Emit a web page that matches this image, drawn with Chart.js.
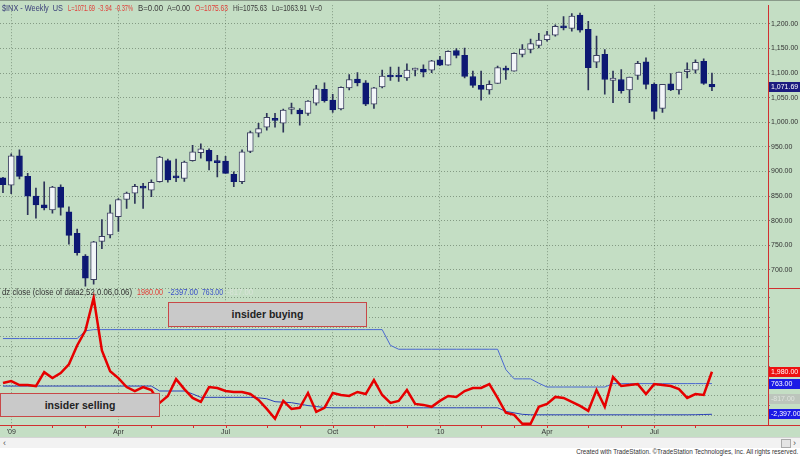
<!DOCTYPE html>
<html>
<head>
<meta charset="utf-8">
<script src="https://cdn.jsdelivr.net/npm/chart.js@4.4.0/dist/chart.umd.min.js"></script>
<style>
  body { margin: 0; width: 800px; height: 457px; overflow: hidden; background: #fff; font-family: 'Liberation Sans', Arial, sans-serif; }
  #wrap { position: absolute; left: 0; top: 0; width: 800px; height: 437px; background: #c4dec4; }
  #topline { position: absolute; left: 0; top: 0; width: 800px; height: 1px; background: #8a9a8a; }
  canvas { position: absolute; left: 0; top: 0; }
  .t { position: absolute; white-space: nowrap; font-size: 8.5px; line-height: 10px; transform-origin: left center; }
  .note { position: absolute; background: #c9c9c9; border: 1px solid #c84848; font-weight: bold; font-size: 10.5px; color: #222; text-align: center; box-sizing: border-box; }
  #scroll { position: absolute; left: 0; top: 437px; width: 800px; height: 10px; background: #f2f2f2; border-top: 1px solid #d4d4d4; }
  #credit { position: absolute; right: 2px; top: 447px; font-size: 7px; line-height: 10px; color: #333; white-space: nowrap; transform-origin: right center; }
</style>
</head>
<body>
<div id="wrap">
  <canvas id="chart" width="800" height="437"></canvas>
  <div id="topline"></div>

  <div class="t" data-w="61" style="left:2px;top:3px;color:#3b407a">$INX - Weekly&nbsp; US</div>
  <div class="t" data-w="27" style="left:68px;top:3px;color:#e0403a">L=1071.69</div>
  <div class="t" data-w="14" style="left:98px;top:3px;color:#e0403a">-3.94</div>
  <div class="t" data-w="18" style="left:115px;top:3px;color:#e0403a">-0.37%</div>
  <div class="t" data-w="25" style="left:138px;top:3px;color:#3a3a3a">B=0.00</div>
  <div class="t" data-w="23" style="left:167px;top:3px;color:#3a3a3a">A=0.00</div>
  <div class="t" data-w="33" style="left:195px;top:3px;color:#e0403a">O=1075.63</div>
  <div class="t" data-w="34" style="left:233px;top:3px;color:#3a3a3a">Hi=1075.63</div>
  <div class="t" data-w="35" style="left:272px;top:3px;color:#3a3a3a">Lo=1063.91</div>
  <div class="t" data-w="12" style="left:310px;top:3px;color:#3a3a3a">V=0</div>

  <div class="t" data-w="130" style="left:2px;top:287px;color:#333">dz close (close of data2,52,0.06,0.06)</div>
  <div class="t" data-w="26" style="left:137px;top:287px;color:#e0403a">1980.00</div>
  <div class="t" data-w="30" style="left:168px;top:287px;color:#3a50c8">-2397.00</div>
  <div class="t" data-w="21" style="left:202px;top:287px;color:#3a50c8">763.00</div>
  <div class="t" data-w="26" style="left:227px;top:287px;color:#d8e4d8">-817.00</div>

  <div class="note" style="left:168px;top:302px;width:199px;height:25px;line-height:23px">insider buying</div>
  <div class="note" style="left:0px;top:393px;width:160px;height:24px;line-height:22px">insider selling</div>
</div>
<div id="scroll">
  <div class="t" style="left:3px;top:0px;color:#555;font-size:9px">&lsaquo;</div>
  <div style="position:absolute;left:781px;top:1px;width:8px;height:7px;background:#e4e4e4;border:1px solid #aaa"></div>
  <div class="t" style="left:793px;top:0px;color:#555;font-size:9px">&rsaquo;</div>
</div>
<div id="credit" data-w="222">Created with TradeStation. &copy;TradeStation Technologies, Inc. All rights reserved.</div>

<script>
// weekly S&P 500 bars, Dec 26 2008 .. Aug 20 2010
const opens = [887,872,932,890,850,832,822,868,818,774,
  728,680,758,771,808,843,856,870,862,879,
  922,888,886,922,938,943,920,921,894,879,
  941,978,990,1008,998,1026,1025,1018,1039,1067,
  1045,1027,1070,1088,1080,1037,1072,1094,1093,1090,
  1106,1108,1106,1127,1116,1146,1136,1093,1075,1066,
  1079,1108,1104,1138,1148,1156,1168,1177,1194,1191,
  1218,1189,1122,1138,1085,1087,1066,1095,1123,1077,
  1028,1078,1066,1103,1106,1124,1077];
const highs = [888,936,944,896,866,879,870,873,828,783,
  731,758,802,832,845,858,874,876,883,931,
  925,925,921,953,956,946,933,931,899,944,
  982,998,1018,1018,1027,1039,1028,1044,1075,1080,
  1057,1072,1097,1101,1085,1071,1106,1112,1112,1119,
  1110,1117,1126,1134,1145,1150,1151,1104,1104,1084,
  1114,1114,1141,1158,1169,1181,1185,1198,1215,1221,
  1222,1205,1175,1148,1104,1107,1092,1124,1131,1080,
  1077,1099,1102,1121,1127,1129,1100];
const lows = [857,855,885,812,805,822,815,811,752,730,
  667,671,743,765,778,825,835,825,849,878,
  878,879,880,921,927,903,889,896,869,875,
  938,970,984,990,980,1017,994,1014,1035,1041,
  1020,1025,1066,1074,1034,1028,1070,1085,1083,1085,
  1094,1092,1101,1115,1116,1131,1090,1071,1045,1057,
  1079,1087,1104,1133,1141,1151,1165,1175,1188,1185,
  1183,1066,1111,1057,1040,1059,1040,1087,1068,1007,
  1020,1064,1057,1090,1100,1077,1064];
const closes = [873,932,890,850,832,826,868,827,770,735,
  683,757,768,816,843,856,870,866,878,929,
  883,887,919,940,946,921,918,896,879,940,
  979,987,1010,1004,1025,1028,1017,1043,1068,1044,
  1025,1071,1087,1080,1037,1070,1094,1092,1092,1106,
  1106,1102,1125,1116,1144,1136,1093,1075,1067,1077,
  1111,1106,1140,1149,1160,1167,1178,1195,1192,1216,
  1187,1111,1136,1087,1090,1064,1092,1120,1077,1022,
  1077,1066,1102,1104,1122,1079,1071.69];

// lower pane: insider indicator and its bands
const insider = [820,1020,610,610,510,1940,1330,1840,2750,4690,
  6220,9590,4180,2040,1330,410,0,410,100,-1220,
  -510,1220,200,-710,-1120,410,310,0,-100,-100,
  -310,-920,-1840,-2860,-1020,-1840,-1730,-200,-2140,-1730,
  -200,-410,-510,-100,-310,1120,-410,-1220,-1020,100,
  -1330,-1430,-1630,-1020,-510,-610,0,310,310,710,
  -710,-2240,-2450,-3370,-3370,-1630,-1330,-610,-710,-1120,
  -1530,-2040,100,-1630,1430,510,610,710,-310,710,
  610,510,200,-710,-310,-410,1980];
const upperBand = [5400,5400,5400,5400,5400,5400,5400,5400,5400,5400,
  6200,6320,6320,6320,6320,6320,6320,6320,6320,6320,
  6320,6320,6320,6320,6320,6320,6320,6320,6320,6320,
  6320,6320,6320,6320,6320,6320,6320,6320,6320,6320,
  6320,6320,6320,6320,6320,6320,6320,4700,4300,4300,
  4300,4300,4300,4300,4300,4300,4300,4300,4300,4300,
  4300,2200,1250,1250,1250,800,410,410,410,410,
  410,410,410,410,763,763,763,763,763,763,
  763,763,763,763,763,763,763];
const lowerBand = [510,510,510,510,510,510,510,510,510,510,
  510,510,510,510,510,510,510,510,510,0,
  0,0,0,-300,-650,-650,-650,-650,-650,-650,
  -650,-700,-800,-1100,-1150,-1200,-1350,-1500,-1600,-1700,
  -1730,-1730,-1730,-1730,-1730,-1730,-1730,-1730,-1730,-1730,
  -1730,-1730,-1730,-1730,-1730,-1730,-1730,-1730,-1730,-1730,
  -1730,-2100,-2250,-2400,-2450,-2450,-2450,-2450,-2450,-2450,
  -2450,-2450,-2450,-2450,-2450,-2450,-2450,-2450,-2450,-2450,
  -2450,-2450,-2450,-2450,-2440,-2420,-2397];
const midValue = -817;

// x axis: bar index of each quarter start, and of each month start
const quarterTicks = [1, 14, 27, 40, 53, 66, 79];
const quarterLabels = ["'09", 'Apr', 'Jul', 'Oct', "'10", 'Apr', 'Jul'];
const monthTicks = [1,6,10,14,18,23,27,32,36,40,45,49,53,58,62,66,71,75,79,84];

const fmt = (v) => Number(v).toLocaleString('en-US', { minimumFractionDigits: 2, maximumFractionDigits: 2 });
const gridColor = 'rgba(80,100,80,0.55)';
const DARK = '#0d1873';
const axisFont = { size: 7 };

Chart.defaults.font.family = "'Liberation Sans', Arial, sans-serif";

// squeeze the small captions to the widths they have in the picture
document.querySelectorAll('[data-w]').forEach((el) => {
  const w = el.getBoundingClientRect().width;
  el.style.transform = 'scaleX(' + (Number(el.dataset.w) / w).toFixed(3) + ')';
});

const extras = {
  id: 'extras',
  afterDraw(chart) {
    const { ctx, chartArea: a, scales: { x, y, y2 } } = chart;
    ctx.save();
    ctx.strokeStyle = '#d03030';
    ctx.lineWidth = 1;
    ctx.beginPath();
    const sep = Math.round(y.bottom) + 0.5;
    ctx.moveTo(a.right, sep); ctx.lineTo(chart.width, sep);
    const bot = Math.round(a.bottom) + 0.5;
    ctx.moveTo(a.right, bot); ctx.lineTo(chart.width, bot);
    monthTicks.forEach((m) => {
      const px = Math.round(x.getPixelForValue(m)) + 0.5;
      ctx.moveTo(px, a.bottom); ctx.lineTo(px, a.bottom + 3);
    });
    ctx.stroke();

    const box = (scale, v, text, bg, fg) => {
      const py = Math.round(scale.getPixelForValue(v));
      ctx.fillStyle = bg;
      ctx.fillRect(a.right + 1, py - 5, chart.width - a.right - 1, 10);
      ctx.fillStyle = fg;
      ctx.font = "7px 'Liberation Sans', Arial, sans-serif";
      ctx.textBaseline = 'middle';
      ctx.fillText(text, a.right + 3, py);
    };
    const last = closes.length - 1;
    box(y, closes[last], fmt(closes[last]), '#1c1c80', '#ffffff');
    box(y2, insider[last], fmt(insider[last]), '#ee1111', '#ffffff');
    box(y2, upperBand[last], fmt(upperBand[last]), '#1a1ae6', '#ffffff');
    box(y2, midValue, fmt(midValue), '#bcc5bc', '#dfe5df');
    box(y2, lowerBand[last], fmt(lowerBand[last]), '#1a1ae6', '#ffffff');
    ctx.restore();
  }
};

const pts = (arr) => arr.map((v, i) => ({ x: i, y: v }));

new Chart(document.getElementById('chart'), {
  type: 'bar',
  data: {
    datasets: [
      {
        type: 'bar',
        data: lows.map((l, i) => ({ x: i, y: [l, highs[i]] })),
        yAxisID: 'y',
        barThickness: 1,
        backgroundColor: '#2c3358',
        grouped: false,
        order: 4,
      },
      {
        type: 'bar',
        data: opens.map((o, i) => ({ x: i, y: [o, closes[i]] })),
        yAxisID: 'y',
        barThickness: 6,
        minBarLength: 2,
        backgroundColor: closes.map((c, i) => (c < opens[i] ? DARK : '#f2f5f8')),
        borderColor: closes.map((c, i) => (c < opens[i] ? DARK : '#3c4060')),
        borderWidth: 1,
        borderSkipped: false,
        grouped: false,
        order: 3,
      },
      {
        type: 'line',
        data: pts(upperBand),
        yAxisID: 'y2',
        borderColor: '#4a68d0',
        borderWidth: 1,
        pointRadius: 0,
        order: 2,
      },
      {
        type: 'line',
        data: pts(lowerBand),
        yAxisID: 'y2',
        borderColor: '#2a40b8',
        borderWidth: 1,
        pointRadius: 0,
        order: 2,
      },
      {
        type: 'line',
        data: pts(insider),
        yAxisID: 'y2',
        borderColor: '#e60000',
        borderWidth: 2.5,
        pointRadius: 0,
        order: 1,
      },
    ],
  },
  options: {
    responsive: false,
    animation: false,
    devicePixelRatio: 1,
    layout: { padding: { top: 2, left: 0, right: 0, bottom: 0 } },
    plugins: { legend: { display: false }, tooltip: { enabled: false } },
    scales: {
      x: {
        type: 'linear',
        position: 'bottom',
        offset: false,
        min: -0.36,
        max: 92.8,
        afterBuildTicks: (s) => { s.ticks = quarterTicks.map((v) => ({ value: v })); },
        afterFit: (s) => { s.height = 12; },
        ticks: {
          autoSkip: false,
          maxRotation: 0,
          padding: 3,
          color: '#333',
          font: axisFont,
          callback: (v) => quarterLabels[quarterTicks.indexOf(v)] ?? '',
        },
        grid: { color: gridColor, drawTicks: false, offset: false },
        border: { color: '#d03030', dash: [1, 2] },
      },
      y: {
        type: 'linear',
        position: 'right',
        stack: 'panes',
        stackWeight: 285,
        min: 663,
        max: 1238,
        afterFit: (s) => { s.width = 32; },
        ticks: {
          stepSize: 50,
          includeBounds: false,
          autoSkip: false,
          padding: 1,
          color: '#333',
          font: axisFont,
          callback: (v) => fmt(v),
        },
        grid: { color: gridColor, tickLength: 2, tickColor: '#777' },
        border: { color: '#d03030', dash: [1, 2] },
      },
      y2: {
        type: 'linear',
        position: 'right',
        stack: 'panes',
        stackWeight: 138,
        min: -3500,
        max: 10600,
        afterFit: (s) => { s.width = 32; },
        ticks: {
          stepSize: 1000,
          includeBounds: false,
          autoSkip: false,
          padding: 1,
          color: '#333',
          font: axisFont,
          callback: (v) => (v % 2000 === 0 && v >= -2000 && v <= 8000 ? fmt(v) : ''),
        },
        grid: { color: gridColor, tickLength: 2, tickColor: '#777' },
        border: { color: '#d03030', dash: [1, 2] },
      },
    },
  },
  plugins: [extras],
});
</script>
</body>
</html>
